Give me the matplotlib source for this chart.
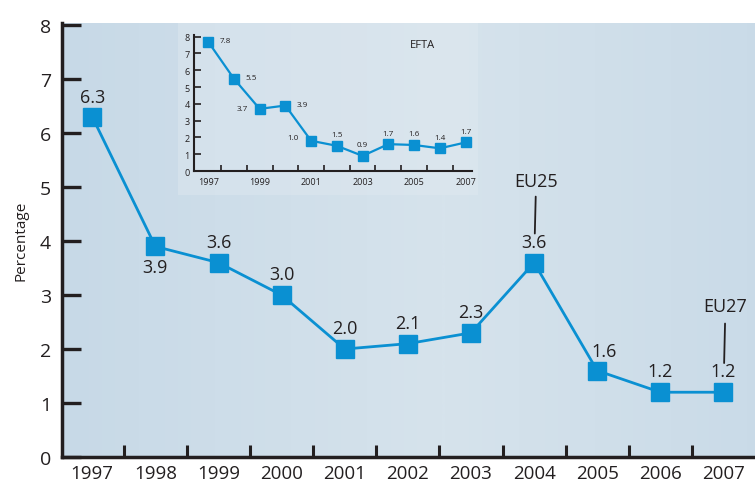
import matplotlib
matplotlib.use("Agg")
import matplotlib.pyplot as plt
import matplotlib.patches as patches
from matplotlib.colors import LinearSegmentedColormap
import numpy as np

plt.rcParams['font.family'] = ['Open Sans', 'DejaVu Sans']

# main series (EU)
years = [1997, 1998, 1999, 2000, 2001, 2002, 2003, 2004, 2005, 2006, 2007]
values = [6.3, 3.9, 3.6, 3.0, 2.0, 2.1, 2.3, 3.6, 1.6, 1.2, 1.2]
labels = ['6.3', '3.9', '3.6', '3.0', '2.0', '2.1', '2.3', '3.6', '1.6', '1.2', '1.2']

# inset series (EFTA)
efta_years = [1997, 1998, 1999, 2000, 2001, 2002, 2003, 2004, 2005, 2006, 2007]
efta_values = [7.7, 5.5, 3.7, 3.9, 1.8, 1.5, 0.9, 1.6, 1.55, 1.35, 1.7]
efta_labels = ['7.8', '5.5', '3.7', '3.9', '1.0', '1.5', '0.9', '1.7', '1.6', '1.4', '1.7']

blue = '#0a90d2'
txt = '#231f20'

fig = plt.figure(figsize=(7.55, 4.89), dpi=100)
fig.patch.set_facecolor('white')

# main axes
ax = fig.add_axes([62/755, 1-458/489, 1-62/755, (458-24)/489])
ax.set_xlim(1996.52, 2007.5)
ax.set_ylim(0, 8.04)

# soft blue background
grad = np.linspace(0, 1, 256).reshape(1, -1)
grad = 1 - np.abs(grad - 0.55) * 1.4
bg = LinearSegmentedColormap.from_list('bg', ['#c7d9e7', '#d6e3ec'])
ax.imshow(grad, cmap=bg, aspect='auto', extent=[0, 1, 0, 1],
          transform=ax.transAxes, zorder=0)

# lighter panel behind the inset
ax.add_patch(patches.Rectangle((178/755, 1-196/489), 300/755, 172/489,
                               transform=fig.transFigure,
                               facecolor='#e2eaf1', edgecolor='none',
                               alpha=0.4, zorder=1))

ax.plot(years, values, color=blue, lw=2.0, zorder=3)
ax.plot(years, values, ls='none', marker='s', ms=13.5, color=blue, zorder=4)

offsets = {0: (0, 20), 1: (0, -21), 8: (7, 20)}
for i, (x, y, s) in enumerate(zip(years, values, labels)):
    dx, dy = offsets.get(i, (0, 21))
    ax.annotate(s, (x, y), xytext=(dx, dy), textcoords='offset pixels',
                ha='center', va='center', fontsize=13, color=txt, zorder=5)

ax.annotate('EU25', (2004, 3.6), xytext=(2, 82), textcoords='offset pixels',
            ha='center', va='center', fontsize=13, color=txt,
            arrowprops=dict(arrowstyle='-', color=txt, lw=1.3,
                            shrinkA=3, shrinkB=21))
ax.annotate('EU27', (2007, 1.2), xytext=(2, 86), textcoords='offset pixels',
            ha='center', va='center', fontsize=13, color=txt,
            arrowprops=dict(arrowstyle='-', color=txt, lw=1.3,
                            shrinkA=4, shrinkB=21))

for side in ['top', 'right']:
    ax.spines[side].set_visible(False)
for side in ['left', 'bottom']:
    ax.spines[side].set_linewidth(2.5)
    ax.spines[side].set_color('#231f20')

ax.set_yticks(range(0, 9))
ax.tick_params(axis='y', direction='in', length=14, width=2.4, color='#231f20',
               labelsize=14, pad=8, labelcolor=txt)
ax.set_xticks(years)
ax.set_xticklabels([str(y) for y in years])
ax.set_xticks(np.arange(1997.5, 2007, 1), minor=True)
ax.tick_params(axis='x', which='major', length=0, labelsize=13.5, pad=5,
               labelcolor=txt)
ax.tick_params(axis='x', which='minor', direction='in', length=9, width=2.2,
               color='#231f20')
ax.set_ylabel('Percentage', fontsize=11, color=txt, labelpad=8)

# inset (EFTA)
ins = fig.add_axes([194/755, 1-172/489, (472-194)/755, (172-36)/489])
ins.set_zorder(5)
ins.patch.set_visible(False)
ins.set_xlim(1996.45, 2007.25)
ins.set_ylim(0, 8.1)
ins.plot(efta_years, efta_values, color=blue, lw=1.6, zorder=3)
ins.plot(efta_years, efta_values, ls='none', marker='s', ms=7, color=blue,
         zorder=4)
ins_off = {0: (17, 1), 1: (17, 1), 2: (-17, 0), 3: (17, 1), 4: (-18, 3)}
for i, (x, y, s) in enumerate(zip(efta_years, efta_values, efta_labels)):
    dx, dy = ins_off.get(i, (0, 11))
    ins.annotate(s, (x, y), xytext=(dx, dy), textcoords='offset pixels',
                 ha='center', va='center', fontsize=5.8, color=txt, zorder=5)
ins.text(0.82, 0.93, 'EFTA', transform=ins.transAxes, ha='center', va='center',
         fontsize=8, color=txt)
for side in ['top', 'right']:
    ins.spines[side].set_visible(False)
for side in ['left', 'bottom']:
    ins.spines[side].set_linewidth(1.5)
    ins.spines[side].set_color('#231f20')
ins.set_yticks(range(0, 9))
ins.tick_params(axis='y', direction='in', length=5, width=1.2, color='#231f20',
                labelsize=6.5, pad=3, labelcolor=txt)
ins.set_xticks([1997, 1999, 2001, 2003, 2005, 2007])
ins.set_xticks(np.arange(1997.5, 2007, 1), minor=True)
ins.tick_params(axis='x', which='major', length=0, labelsize=6.5, pad=4,
                labelcolor=txt)
ins.tick_params(axis='x', which='minor', direction='in', length=4, width=1.2,
                color='#231f20')

fig.savefig('out.png', dpi=100)
